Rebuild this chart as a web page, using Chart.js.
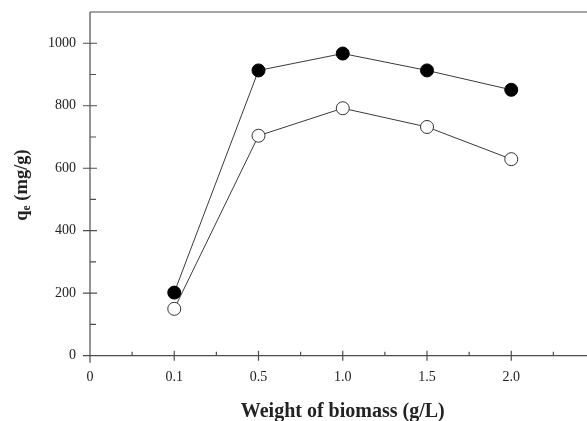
<!DOCTYPE html>
<html>
<head>
<meta charset="utf-8">
<script src="https://cdn.jsdelivr.net/npm/chart.js@4/dist/chart.umd.min.js"></script>
<style>
html,body{margin:0;padding:0;background:#fff;}
canvas{display:block;}
</style>
</head>
<body>
<canvas id="c" width="587" height="421"></canvas>
<script>
// ---- data ----
const xTickLabels = ['0', '0.1', '0.5', '1.0', '1.5', '2.0'];
const xPositions = [1, 2, 3, 4, 5];           // index positions of 0.1 .. 2.0 on the axis
const filledSeries = [202, 913, 967, 913, 851];
const openSeries = [150, 704, 792, 732, 629];
const yMajorTicks = [0, 200, 400, 600, 800, 1000];
const xTitle = 'Weight of biomass (g/L)';

const AXIS_COLOR = '#4d4d4d';
const TEXT_COLOR = '#222';
const SERIF = '"Liberation Serif", "Times New Roman", serif';

const framePlugin = {
  id: 'frame',
  beforeDatasetsDraw(chart) {
    const {ctx, chartArea: a, scales: {x, y}} = chart;
    ctx.save();
    ctx.strokeStyle = AXIS_COLOR;
    ctx.lineWidth = 1.2;
    ctx.beginPath();
    ctx.moveTo(a.left, a.top); ctx.lineTo(chart.width, a.top);
    ctx.moveTo(a.left, a.top); ctx.lineTo(a.left, a.bottom + 7);
    ctx.moveTo(a.left - 7, a.bottom); ctx.lineTo(chart.width, a.bottom);
    for (let v = 100; v <= 1000; v += 100) {
      const py = y.getPixelForValue(v);
      if (v % 200 === 0) { ctx.moveTo(a.left - 7, py); ctx.lineTo(a.left + 7, py); }
      else { ctx.moveTo(a.left, py); ctx.lineTo(a.left + 6, py); }
    }
    for (let v = 0.5; v <= x.max; v += 0.5) {
      const px = x.getPixelForValue(v);
      if (Number.isInteger(v)) { ctx.moveTo(px, a.bottom - 5); ctx.lineTo(px, a.bottom + 5); }
      else { ctx.moveTo(px, a.bottom - 4); ctx.lineTo(px, a.bottom); }
    }
    ctx.stroke();

    ctx.fillStyle = TEXT_COLOR;
    // x title
    ctx.font = 'bold 20px ' + SERIF;
    ctx.textAlign = 'center';
    ctx.textBaseline = 'alphabetic';
    ctx.fillText(xTitle, x.getPixelForValue(3), 417);

    // y title with subscript
    const big = 'bold 18.5px ' + SERIF, small = 'bold 11.5px ' + SERIF;
    ctx.translate(21, 185);
    ctx.rotate(-Math.PI / 2);
    ctx.font = big; const wq = ctx.measureText('q').width;
    ctx.font = small; const we = ctx.measureText('e').width;
    ctx.font = big; const wr = ctx.measureText(' (mg/g)').width;
    let sx = -(wq + we + wr) / 2;
    ctx.textAlign = 'left';
    ctx.font = big; ctx.fillText('q', sx, 6);
    ctx.font = small; ctx.fillText('e', sx + wq, 9);
    ctx.font = big; ctx.fillText(' (mg/g)', sx + wq + we, 6);
    ctx.restore();
  }
};

const chart = new Chart(document.getElementById('c'), {
  type: 'scatter',
  data: {
    datasets: [
      {
        data: xPositions.map((p, i) => ({x: p, y: filledSeries[i]})),
        showLine: true,
        borderColor: '#3a3a3a',
        borderWidth: 1,
        pointRadius: 6.5,
        pointBackgroundColor: '#000',
        pointBorderColor: '#000',
        pointBorderWidth: 1,
        clip: false
      },
      {
        data: xPositions.map((p, i) => ({x: p, y: openSeries[i]})),
        showLine: true,
        borderColor: '#3a3a3a',
        borderWidth: 1,
        pointRadius: 6.5,
        pointBackgroundColor: '#fff',
        pointBorderColor: '#333',
        pointBorderWidth: 1,
        clip: false
      }
    ]
  },
  options: {
    responsive: false,
    animation: false,
    layout: {padding: {top: 12, left: 0, right: 0, bottom: 0}},
    plugins: {legend: {display: false}, tooltip: {enabled: false}},
    scales: {
      x: {
        type: 'linear',
        min: 0,
        max: 5.81,
        afterFit(s) { s.height = 65.3; s.paddingLeft = 0; s.paddingRight = 0; },
        grid: {display: false, drawTicks: false},
        border: {display: false},
        ticks: {
          stepSize: 0.5,
          autoSkip: false,
          maxRotation: 0,
          padding: 13,
          color: TEXT_COLOR,
          font: {family: SERIF, size: 14},
          callback: v => Number.isInteger(v) && v < xTickLabels.length ? xTickLabels[v] : ''
        }
      },
      y: {
        min: 0,
        max: 1100,
        afterFit(s) { s.width = 90; s.paddingTop = 0; s.paddingBottom = 0; },
        grid: {display: false, drawTicks: false},
        border: {display: false},
        ticks: {
          stepSize: 100,
          autoSkip: false,
          padding: 14,
          color: TEXT_COLOR,
          font: {family: SERIF, size: 14},
          callback: v => yMajorTicks.includes(v) ? String(v) : ''
        }
      }
    }
  },
  plugins: [framePlugin]
});
</script>
</body>
</html>
